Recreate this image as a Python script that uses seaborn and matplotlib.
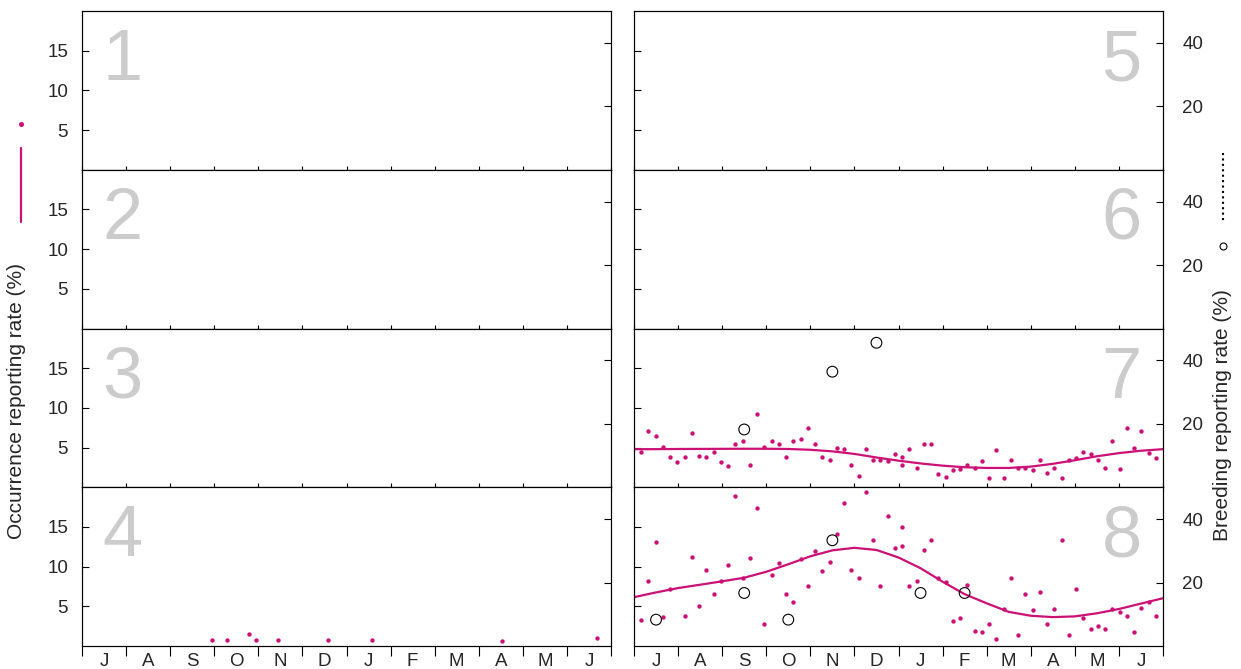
import numpy as np
import pandas as pd
import matplotlib
matplotlib.use("Agg")
import matplotlib.pyplot as plt
from matplotlib.lines import Line2D
import seaborn as sns

nan = np.nan

# ---------------- data ----------------
month_labels = ["J", "A", "S", "O", "N", "D", "J", "F", "M", "A", "M", "J"]
panel_numbers = [1, 2, 3, 4, 5, 6, 7, 8]

# pentad index (73 pentads per year starting 1 July); pentad 37 holds two values
pentad = list(range(1, 38)) + list(range(37, 73))

occ7 = [4.46, 7.13, 6.46, 5.13, 3.79, 3.13, 3.79, 6.79, 3.96, 3.79,
        4.46, 3.13, 2.63, 5.46, 5.79, 2.79, 9.29, 5.13, 5.79, 5.46,
        3.79, 5.79, 6.13, 7.46, 5.46, 3.79, 3.46, 4.96, 4.79, 2.79,
        1.46, 4.79, 3.46, 3.46, 3.29, 4.13, 3.79,
        2.79, 4.79, 2.46, 5.46, 5.46, 1.63, 1.29, 2.13, 2.29, 2.79,
        2.46, 3.29, 1.13, 4.63, 1.13, 3.46, 2.46, 2.46, 2.13, 3.46,
        1.79, 2.46, 1.13, 3.46, 3.63, 4.46, 4.13, 3.46, 2.46, 5.79,
        2.29, 7.46, 4.96, 7.13, 4.29, 3.63]

occ8 = [3.31, 8.22, 13.14, 3.64, 7.2, nan, 3.81, 11.27, 5.0, 9.58,
        6.53, 8.22, 10.25, 18.9, 8.56, 11.1, 17.37, 2.8, 8.9, 10.42,
        6.53, 5.51, 10.93, 7.54, 11.95, 9.4, 10.6, 14.15, 18.05, 9.58,
        8.56, 19.4, 13.3, 7.54, 16.36, 12.29, 15.0,
        12.63, 7.54, 8.22, 12.12, 13.3, 8.56, 8.05, 3.14, 3.47, 7.71,
        1.95, 1.78, 2.8, 0.93, 4.66, 8.56, 1.44, 6.53, 4.49, 6.86,
        2.8, 4.66, 13.3, 1.44, 7.2, 3.47, 2.12, 2.46, 2.12, 4.66,
        4.32, 3.81, 1.78, 4.83, 5.51, 3.81]

occ4_pentad = [18, 20, 23, 24, 27, 34, 40, 58, 71]
occ4_rate = [0.8, 0.8, 1.47, 0.8, 0.8, 0.8, 0.8, 0.63, 0.97]

# breeding reporting rate, one value per month (Jul..Jun)
breed_month = list(range(12))
breed7 = [nan, nan, 18.2, nan, 36.4, 45.5, nan, nan, nan, nan, nan, nan]
breed8 = [8.3, nan, 16.7, 8.3, 33.3, nan, 16.7, 16.7, nan, nan, nan, nan]

# smoothed occurrence curves, read at half-month steps
curve_month = [0.0, 0.5, 1.0, 1.5, 2.0, 2.5, 3.0, 3.5, 4.0, 4.5, 5.0, 5.5, 6.0,
               6.5, 7.0, 7.5, 8.0, 8.5, 9.0, 9.5, 10.0, 10.5, 11.0, 11.5, 12.0]
fit7 = [4.79, 4.80, 4.82, 4.83, 4.84, 4.85, 4.85, 4.82, 4.72, 4.52, 4.20, 3.75, 3.35,
        3.00, 2.72, 2.52, 2.43, 2.43, 2.60, 2.95, 3.40, 3.90, 4.30, 4.60, 4.80]
fit8 = [6.15, 6.75, 7.30, 7.72, 8.15, 8.60, 9.35, 10.3, 11.3, 12.05, 12.37, 12.1, 11.15,
        9.80, 8.10, 6.53, 5.38, 4.30, 3.81, 3.64, 3.73, 4.12, 4.66, 5.34, 6.02]

# ---------------- style ----------------
sns.set_style("ticks")
plt.rcParams["font.family"] = ["Liberation Sans", "DejaVu Sans"]
plt.rcParams["axes.linewidth"] = 0.8

MAG = "#CD1076"
GREY = "#cccccc"
W, H = 1241, 669
TICK_FS = 13.5

fig = plt.figure(figsize=(W / 100, H / 100), dpi=100)

def month_of(p):
    return np.asarray(p, dtype=float) * 12.0 / 73.0

occ_data = {
    4: (month_of(occ4_pentad), occ4_rate),
    7: (month_of(pentad), occ7),
    8: (month_of(pentad), occ8),
}
fit_data = {7: fit7, 8: fit8}
breed_data = {7: breed7, 8: breed8}

col_left = [82, 634]
col_width = [529, 529]
top_px, bottom_px = 11, 646
row_h = (bottom_px - top_px) / 4

for idx, num in enumerate(panel_numbers):
    col, row = divmod(idx, 4)
    x0 = col_left[col] / W
    y0 = 1 - (top_px + (row + 1) * row_h) / H
    ax = fig.add_axes([x0, y0, col_width[col] / W, row_h / H])
    ax.set_xlim(0, 12)
    ax.set_ylim(0, 20)

    if num in occ_data:
        xs, ys = occ_data[num]
        df = pd.DataFrame({"month": xs, "rate": ys}).dropna()
        sns.scatterplot(data=df, x="month", y="rate", ax=ax, color=MAG,
                        s=10, linewidth=0, zorder=3)
    if num in fit_data:
        dfc = pd.DataFrame({"month": curve_month, "rate": fit_data[num]})
        sns.lineplot(data=dfc, x="month", y="rate", ax=ax, color=MAG,
                     lw=1.6, zorder=2)

    ax.set_xlabel("")
    ax.set_ylabel("")

    # x ticks
    ax.set_xticks(range(13))
    ax.set_xticklabels([])
    ax.set_xticks(np.arange(12) + 0.5, minor=True)
    if row == 3:
        ax.set_xticklabels(month_labels, minor=True, fontsize=TICK_FS)
        ax.tick_params(axis="x", which="major", direction="out", length=7,
                       width=0.8, color="black")
    else:
        ax.set_xticklabels([], minor=True)
        ax.tick_params(axis="x", which="major", direction="inout", length=6,
                       width=0.8, color="black")
    ax.tick_params(axis="x", which="minor", length=0, pad=5)

    # left y ticks
    ax.set_yticks([5, 10, 15])
    if col == 0:
        ax.set_yticklabels(["5", "10", "15"], fontsize=TICK_FS)
    else:
        ax.set_yticklabels([])
    ax.tick_params(axis="y", direction="in", length=5, width=0.8, pad=10,
                   color="black")

    # right axis (breeding)
    ax2 = ax.twinx()
    ax2.set_ylim(0, 50)
    if num in breed_data:
        dfb = pd.DataFrame({"month": np.asarray(breed_month) + 0.5,
                            "rate": breed_data[num]}).dropna()
        sns.scatterplot(data=dfb, x="month", y="rate", ax=ax2,
                        facecolors="none", edgecolors="black",
                        s=60, linewidth=0.8, zorder=4)
    ax2.set_xlabel("")
    ax2.set_ylabel("")
    ax2.set_yticks([20, 40])
    if col == 1:
        ax2.set_yticklabels(["20", "40"], fontsize=TICK_FS)
    else:
        ax2.set_yticklabels([])
    ax2.tick_params(axis="y", direction="in", length=5, width=0.8, pad=14,
                    color="black")
    for a in (ax, ax2):
        for sp in a.spines.values():
            sp.set_color("black")
            sp.set_linewidth(0.8)

    # big panel number
    if col == 0:
        ax.text(0.038, 0.565, str(num), transform=ax.transAxes, ha="left",
                va="baseline", fontsize=52, color=GREY, zorder=0)
    else:
        ax.text(0.960, 0.565, str(num), transform=ax.transAxes, ha="right",
                va="baseline", fontsize=52, color=GREY, zorder=0)

# ---------------- outer labels and key symbols ----------------
def fx(px):
    return px / W

def fy(py):
    return 1 - py / H

fig.text(fx(17), fy(401), "Occurrence reporting rate (%)", rotation=90,
         ha="center", va="center", fontsize=15)
fig.text(fx(1222), fy(415), "Breeding reporting rate (%)", rotation=90,
         ha="center", va="center", fontsize=15)

fig.add_artist(Line2D([fx(21)], [fy(124)], transform=fig.transFigure,
                      marker="o", markersize=2.6, color=MAG, linestyle="none"))
fig.add_artist(Line2D([fx(21), fx(21)], [fy(148), fy(222)],
                      transform=fig.transFigure, color=MAG, lw=1.6))
fig.add_artist(Line2D([fx(1223), fx(1223)], [fy(153), fy(222)],
                      transform=fig.transFigure, color="black", lw=1.5,
                      linestyle=(0, (1, 1.6))))
fig.add_artist(Line2D([fx(1223)], [fy(246)], transform=fig.transFigure,
                      marker="o", markersize=5, markerfacecolor="none",
                      markeredgecolor="black", markeredgewidth=0.8,
                      linestyle="none"))

fig.savefig("out.png", dpi=100)
